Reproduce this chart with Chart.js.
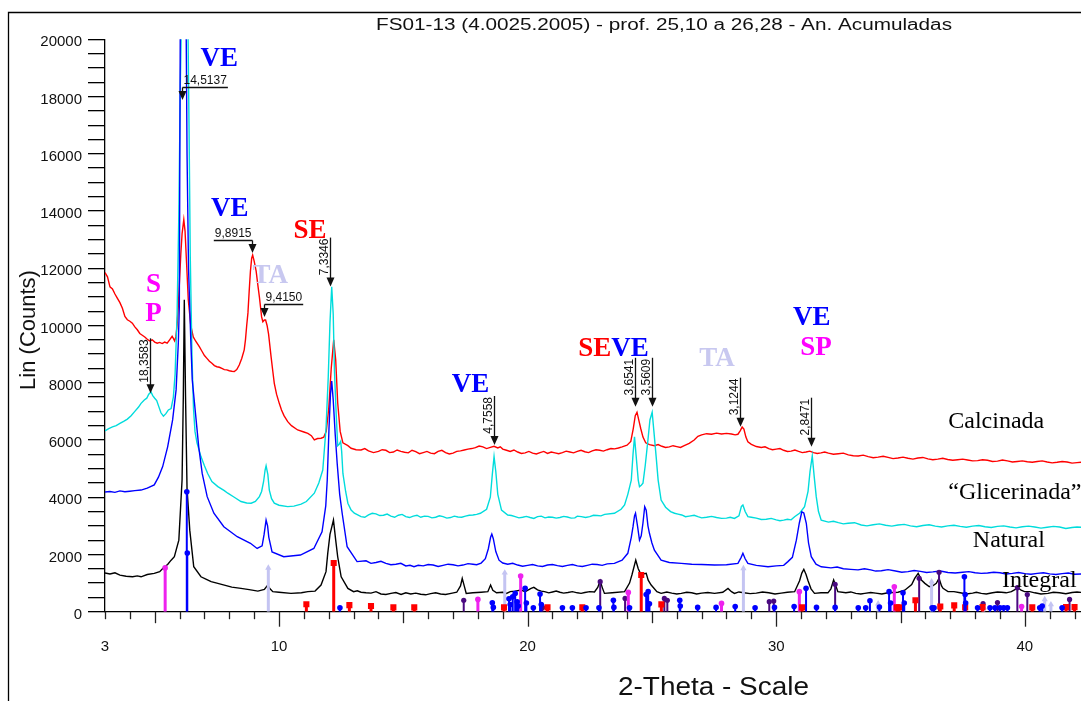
<!DOCTYPE html>
<html>
<head>
<meta charset="utf-8">
<title>FS01-13 difratogramas</title>
<script src="https://cdn.jsdelivr.net/npm/chart.js@4.4.1/dist/chart.umd.min.js"></script>
<style>
  html, body { margin: 0; padding: 0; background: #fff; overflow: hidden; }
  #wrap { width: 1081px; height: 701px; }
  canvas { display: block; }
</style>
</head>
<body>
<div id="wrap"><canvas id="xrd" width="1081" height="701"></canvas></div>
<script>
// x axis labels (2-theta)
const xLabels = [3, 10, 20, 30, 40];

// diffractograms, [2theta, counts]
const calcinada = [
  [3.00,11850],[3.10,11700],[3.20,11350],[3.30,11280],[3.40,11100],[3.50,10950],[3.60,10800],[3.70,10600],
  [3.80,10320],[3.90,10200],[4.00,10150],[4.10,10080],[4.20,9950],[4.30,9850],[4.40,9720],[4.50,9660],
  [4.60,9600],[4.70,9520],[4.80,9460],[4.90,9500],[5.00,9420],[5.10,9380],[5.20,9410],[5.30,9370],
  [5.40,9420],[5.50,9380],[5.60,9500],[5.70,9620],[5.75,9550],[5.80,9460],[5.85,9600],[5.90,10000],
  [5.95,10700],[6.00,11600],[6.05,12500],[6.10,13200],[6.17,13700],[6.22,13300],[6.28,12200],[6.35,10900],
  [6.45,10000],[6.55,9600],[6.65,9450],[6.80,9250],[6.90,9100],[7.00,8950],[7.10,8850],[7.20,8750],
  [7.30,8680],[7.40,8600],[7.50,8560],[7.60,8540],[7.70,8500],[7.80,8460],[7.90,8450],[8.00,8420],
  [8.10,8400],[8.20,8390],[8.30,8460],[8.40,8620],[8.50,8850],[8.60,9150],[8.65,9500],[8.70,10000],
  [8.75,10440],[8.80,11200],[8.85,11900],[8.90,12350],[8.94,12460],[9.00,12250],[9.08,11900],[9.15,11400],
  [9.21,11000],[9.30,10300],[9.35,10130],[9.41,10190],[9.46,10190],[9.52,10000],[9.58,9700],[9.68,8910],
  [9.75,8400],[9.81,7980],[9.90,7600],[10.01,7280],[10.10,7050],[10.20,6850],[10.35,6640],[10.50,6500],
  [10.75,6350],[11.00,6280],[11.16,6230],[11.30,6150],[11.42,6000],[11.55,6050],[11.69,6060],[11.80,6100],
  [11.90,6300],[12.00,7100],[12.10,8500],[12.20,9500],[12.28,8800],[12.36,7300],[12.46,6300],[12.57,5900],
  [12.77,5800],[12.90,5710],[13.10,5660],[13.30,5650],[13.45,5700],[13.60,5620],[13.80,5560],[14.00,5600],
  [14.15,5660],[14.30,5640],[14.45,5560],[14.60,5580],[14.75,5650],[14.90,5600],[15.05,5570],[15.20,5550],
  [15.35,5640],[15.50,5590],[15.65,5520],[15.80,5560],[15.95,5600],[16.10,5540],[16.25,5520],[16.40,5600],
  [16.55,5640],[16.70,5560],[16.85,5510],[17.00,5540],[17.15,5600],[17.30,5620],[17.45,5650],[17.60,5680],
  [17.75,5700],[17.90,5730],[18.05,5790],[18.20,5760],[18.35,5700],[18.50,5740],[18.65,5780],[18.80,5720],
  [18.90,5760],[19.00,5680],[19.15,5640],[19.30,5600],[19.45,5650],[19.60,5580],[19.75,5530],[19.90,5550],
  [20.05,5600],[20.20,5540],[20.35,5510],[20.50,5560],[20.65,5600],[20.80,5530],[20.95,5580],[21.10,5550],
  [21.25,5520],[21.40,5560],[21.55,5610],[21.70,5580],[21.85,5550],[22.00,5600],[22.15,5640],[22.30,5590],
  [22.45,5560],[22.60,5620],[22.75,5660],[22.90,5640],[23.05,5610],[23.20,5660],[23.35,5700],[23.50,5690],
  [23.65,5720],[23.80,5760],[24.00,5820],[24.15,5950],[24.25,6400],[24.33,6850],[24.40,6970],[24.47,6700],
  [24.55,6400],[24.64,6100],[24.75,5900],[24.90,5840],[25.10,5800],[25.25,5840],[25.40,5780],[25.55,5740],
  [25.70,5760],[25.85,5800],[26.00,5770],[26.15,5740],[26.30,5800],[26.50,5880],[26.70,6000],[26.85,6130],
  [27.00,6180],[27.20,6220],[27.40,6200],[27.60,6240],[27.80,6210],[28.00,6230],[28.20,6210],[28.35,6180],
  [28.46,6200],[28.55,6320],[28.63,6450],[28.70,6380],[28.78,6100],[28.86,5940],[29.00,5850],[29.20,5770],
  [29.40,5740],[29.55,5760],[29.70,5700],[29.85,5660],[30.00,5680],[30.15,5700],[30.30,5640],[30.45,5600],
  [30.60,5610],[30.75,5650],[30.90,5600],[31.05,5560],[31.20,5580],[31.35,5610],[31.50,5560],[31.65,5530],
  [31.80,5550],[31.95,5580],[32.10,5540],[32.30,5500],[32.50,5520],[32.70,5540],[32.90,5480],[33.10,5450],
  [33.30,5440],[33.50,5470],[33.70,5420],[33.90,5380],[34.10,5400],[34.30,5430],[34.50,5390],[34.70,5350],
  [34.90,5370],[35.10,5400],[35.30,5360],[35.50,5330],[35.70,5370],[35.90,5390],[36.10,5340],[36.30,5310],
  [36.50,5330],[36.70,5360],[36.90,5320],[37.10,5290],[37.30,5310],[37.50,5330],[37.70,5300],[37.90,5270],
  [38.10,5280],[38.30,5310],[38.50,5290],[38.70,5250],[38.90,5260],[39.10,5300],[39.30,5270],[39.50,5230],
  [39.70,5250],[39.90,5270],[40.10,5240],[40.30,5220],[40.50,5250],[40.70,5270],[40.90,5230],[41.10,5200],
  [41.30,5220],[41.50,5250],[41.70,5230],[41.90,5190],[42.10,5210],[42.26,5220]
];

const glicerinada = [
  [3.00,6320],[3.15,6400],[3.30,6460],[3.45,6500],[3.60,6580],[3.75,6650],[3.90,6730],[4.05,6850],
  [4.20,7000],[4.35,7150],[4.45,7280],[4.58,7400],[4.68,7460],[4.76,7600],[4.85,7680],[4.92,7550],
  [5.00,7460],[5.08,7380],[5.15,7200],[5.25,6950],[5.35,6830],[5.45,6920],[5.55,7050],[5.66,7100],
  [5.75,7500],[5.82,8300],[5.90,10400],[5.97,13900],[6.03,18400],[6.08,21000],[6.20,26000],[6.33,21000],
  [6.38,17000],[6.43,12400],[6.50,8900],[6.56,7100],[6.62,6300],[6.70,5900],[6.86,5420],[7.00,5100],
  [7.13,4830],[7.30,4550],[7.54,4370],[7.80,4230],[7.94,4140],[8.20,4000],[8.47,3850],[8.70,3800],
  [8.88,3790],[9.05,3850],[9.21,4020],[9.30,4200],[9.38,4550],[9.44,4950],[9.48,5100],[9.55,4800],
  [9.61,4250],[9.70,3950],[9.81,3790],[10.00,3720],[10.35,3670],[10.60,3690],[10.89,3760],[11.10,3850],
  [11.42,4140],[11.60,4500],[11.76,4950],[11.89,6400],[11.98,8200],[12.05,10100],[12.12,11350],[12.18,10400],
  [12.23,8400],[12.30,6900],[12.36,5800],[12.42,5850],[12.48,5950],[12.52,5600],[12.57,4830],[12.68,4200],
  [12.77,3790],[12.90,3550],[13.03,3440],[13.30,3320],[13.45,3300],[13.60,3380],[13.75,3440],[13.90,3420],
  [14.05,3360],[14.20,3370],[14.35,3410],[14.50,3340],[14.65,3300],[14.80,3370],[14.95,3400],[15.10,3320],
  [15.25,3290],[15.40,3340],[15.55,3370],[15.70,3300],[15.85,3340],[16.00,3330],[16.15,3280],[16.30,3300],
  [16.45,3350],[16.60,3320],[16.75,3270],[16.90,3290],[17.05,3340],[17.20,3310],[17.35,3300],[17.50,3340],
  [17.65,3370],[17.80,3380],[17.95,3400],[18.10,3440],[18.35,3580],[18.50,4000],[18.58,4800],[18.65,5420],
  [18.72,4900],[18.80,4100],[18.95,3550],[19.20,3380],[19.35,3360],[19.50,3320],[19.65,3280],[19.80,3300],
  [19.95,3330],[20.10,3290],[20.25,3260],[20.40,3320],[20.55,3340],[20.70,3280],[20.85,3310],[21.00,3300],
  [21.15,3270],[21.30,3290],[21.45,3330],[21.60,3310],[21.75,3270],[21.90,3280],[22.00,3340],[22.16,3320],
  [22.33,3290],[22.50,3320],[22.65,3370],[22.80,3360],[22.95,3350],[23.10,3400],[23.49,3440],[23.76,3580],
  [23.90,3730],[24.03,4100],[24.17,4600],[24.24,5500],[24.30,6110],[24.36,5500],[24.45,4600],[24.50,4370],
  [24.57,4420],[24.64,4490],[24.73,5100],[24.84,6000],[24.92,6700],[25.01,6970],[25.08,6300],[25.17,5420],
  [25.25,4600],[25.37,3900],[25.55,3650],[25.75,3500],[25.91,3440],[26.05,3410],[26.20,3380],[26.35,3320],
  [26.50,3340],[26.70,3370],[26.85,3320],[27.00,3280],[27.20,3300],[27.40,3330],[27.60,3290],[27.80,3260],
  [28.00,3270],[28.15,3300],[28.32,3260],[28.50,3350],[28.60,3680],[28.66,3730],[28.75,3500],[28.86,3320],
  [29.00,3300],[29.20,3270],[29.40,3220],[29.60,3230],[29.80,3260],[30.00,3210],[30.15,3180],[30.30,3200],
  [30.45,3230],[30.60,3210],[30.74,3320],[30.95,3450],[31.14,3670],[31.28,4200],[31.36,4900],[31.45,5440],
  [31.53,4700],[31.61,4020],[31.70,3500],[31.81,3200],[32.10,3130],[32.30,3160],[32.50,3110],[32.70,3070],
  [32.89,3090],[33.15,3110],[33.42,3030],[33.65,3000],[33.90,3040],[34.15,3070],[34.40,3020],[34.65,2990],
  [34.90,3030],[35.15,3050],[35.40,3000],[35.65,2970],[35.90,3010],[36.15,3040],[36.40,2990],[36.65,2960],
  [36.90,3000],[37.15,3020],[37.40,2980],[37.65,2950],[37.90,2990],[38.15,3010],[38.40,2970],[38.65,2940],
  [38.90,2980],[39.15,3000],[39.40,2960],[39.65,2930],[39.90,2970],[40.15,2990],[40.40,2960],[40.65,2920],
  [40.90,2950],[41.15,2980],[41.40,2960],[41.65,2910],[41.90,2940],[42.10,2960],[42.26,2950]
];

const natural = [
  [3.00,4180],[3.20,4200],[3.40,4170],[3.60,4220],[3.80,4190],[4.00,4210],[4.20,4230],[4.45,4250],
  [4.70,4320],[4.98,4430],[5.15,4700],[5.32,5070],[5.52,5760],[5.72,6700],[5.86,7750],[5.95,9400],
  [5.99,10660],[6.03,21000],[6.15,32000],[6.26,21000],[6.30,16000],[6.36,12000],[6.45,9500],[6.51,8100],
  [6.64,6930],[6.77,5760],[6.91,4830],[7.11,4020],[7.38,3440],[7.78,2970],[8.32,2620],[8.85,2390],
  [9.12,2210],[9.32,2300],[9.40,2700],[9.48,3200],[9.54,3000],[9.59,2600],[9.72,2090],[10.19,1920],
  [10.86,1980],[11.40,2210],[11.73,2790],[11.88,3700],[11.94,4600],[12.01,6400],[12.07,7600],[12.12,8060],
  [12.18,7400],[12.26,6200],[12.34,5180],[12.44,4100],[12.54,3440],[12.74,2270],[13.14,1750],[13.50,1780],
  [13.70,1690],[13.90,1720],[14.10,1760],[14.30,1690],[14.50,1640],[14.70,1660],[14.90,1690],[15.10,1600],
  [15.27,1620],[15.43,1570],[15.60,1620],[15.80,1600],[16.00,1650],[16.20,1630],[16.40,1580],[16.60,1620],
  [16.80,1660],[17.00,1640],[17.20,1600],[17.40,1630],[17.60,1680],[17.80,1660],[17.95,1640],[18.13,1700],
  [18.30,1850],[18.42,2200],[18.51,2600],[18.56,2710],[18.62,2550],[18.72,2100],[18.85,1800],[19.00,1700],
  [19.20,1660],[19.40,1690],[19.60,1630],[19.80,1590],[20.00,1620],[20.20,1650],[20.40,1600],[20.60,1580],
  [20.80,1630],[21.00,1650],[21.20,1610],[21.40,1580],[21.60,1620],[21.80,1650],[22.00,1600],[22.20,1580],
  [22.40,1620],[22.60,1660],[22.80,1650],[23.00,1620],[23.20,1670],[23.49,1690],[23.80,1800],[24.03,2040],
  [24.17,2600],[24.24,2970],[24.30,3350],[24.34,3440],[24.42,3000],[24.50,2500],[24.57,2650],[24.64,3100],
  [24.71,3670],[24.77,3550],[24.84,3000],[24.90,2740],[25.00,2400],[25.10,2150],[25.37,1800],[25.70,1720],
  [26.18,1690],[26.60,1660],[27.00,1650],[27.52,1630],[28.00,1640],[28.46,1690],[28.59,1900],[28.66,2040],
  [28.75,1850],[28.86,1690],[29.20,1620],[29.67,1570],[30.00,1600],[30.30,1620],[30.47,1750],[30.65,1900],
  [30.81,2500],[30.93,3100],[31.03,3490],[31.11,3450],[31.21,3090],[31.30,2400],[31.41,1920],[31.60,1660],
  [31.81,1570],[32.20,1530],[32.45,1560],[32.70,1500],[33.00,1480],[33.29,1460],[33.55,1500],[33.80,1460],
  [34.00,1420],[34.23,1430],[34.50,1470],[34.80,1420],[35.05,1380],[35.30,1400],[35.55,1440],[35.80,1410],
  [36.05,1370],[36.30,1390],[36.60,1420],[36.91,1370],[37.20,1350],[37.50,1380],[37.75,1400],[38.00,1360],
  [38.25,1340],[38.50,1350],[38.75,1380],[39.00,1360],[39.25,1320],[39.50,1340],[39.75,1370],[40.00,1330],
  [40.25,1310],[40.50,1340],[40.75,1360],[41.00,1320],[41.25,1300],[41.50,1330],[41.75,1350],[42.00,1310],
  [42.26,1315]
];

const integral = [
  [3.00,1350],[3.20,1320],[3.40,1360],[3.60,1280],[3.85,1240],[4.11,1220],[4.30,1250],[4.45,1220],
  [4.70,1300],[4.98,1340],[5.20,1400],[5.39,1570],[5.52,1650],[5.66,1800],[5.79,1920],[5.97,2500],
  [6.10,4600],[6.15,7500],[6.19,10900],[6.24,7500],[6.30,4300],[6.41,2850],[6.57,1570],[6.86,1220],
  [7.10,1120],[7.27,1050],[7.50,1000],[7.80,930],[8.10,860],[8.47,815],[8.80,770],[9.15,720],
  [9.41,780],[9.55,930],[9.62,820],[9.75,700],[10.00,680],[10.48,640],[10.90,660],[11.16,700],
  [11.45,720],[11.69,930],[11.89,1400],[11.96,2040],[12.05,2700],[12.19,3200],[12.28,2500],[12.36,1920],
  [12.50,1220],[12.77,815],[13.00,700],[13.15,730],[13.30,680],[13.50,660],[13.70,650],[13.90,700],
  [14.10,620],[14.30,600],[14.50,640],[14.70,670],[14.91,605],[15.10,660],[15.30,620],[15.50,650],
  [15.70,610],[15.90,590],[16.10,630],[16.30,660],[16.50,620],[16.70,600],[16.92,640],[17.15,680],
  [17.30,900],[17.37,1165],[17.45,900],[17.53,640],[17.80,660],[18.13,680],[18.40,700],[18.51,930],
  [18.60,750],[18.75,660],[19.00,680],[19.15,640],[19.30,700],[19.50,720],[19.74,755],[19.90,700],
  [20.14,815],[20.25,850],[20.40,760],[20.55,720],[20.68,700],[20.85,660],[21.00,690],[21.15,720],
  [21.30,680],[21.45,650],[21.62,670],[21.80,700],[22.00,660],[22.15,640],[22.30,670],[22.50,700],
  [22.69,690],[22.82,850],[22.92,1080],[23.00,850],[23.09,640],[23.40,660],[23.90,700],[24.10,1000],
  [24.20,1300],[24.35,1800],[24.45,1500],[24.57,1280],[24.70,1330],[24.77,1340],[24.85,1100],[24.97,930],
  [25.20,700],[25.37,640],[25.60,690],[25.80,650],[26.00,620],[26.18,640],[26.40,680],[26.60,660],
  [26.80,620],[27.00,650],[27.25,670],[27.52,640],[27.85,680],[28.06,815],[28.20,700],[28.32,640],
  [28.50,690],[28.70,660],[28.95,630],[29.20,650],[29.45,690],[29.70,660],[29.95,620],[30.20,650],
  [30.45,680],[30.74,700],[30.94,1080],[31.03,1350],[31.11,1480],[31.20,1300],[31.28,1080],[31.40,800],
  [31.54,640],[31.80,660],[32.08,660],[32.20,800],[32.31,1110],[32.40,900],[32.48,700],[32.80,660],
  [33.00,690],[33.20,640],[33.40,620],[33.56,640],[33.80,670],[34.00,650],[34.25,620],[34.50,660],
  [34.90,680],[35.17,750],[35.45,950],[35.57,1165],[35.71,1340],[35.85,1100],[35.98,990],[36.15,880],
  [36.24,870],[36.44,990],[36.55,1165],[36.65,900],[36.71,815],[36.91,700],[37.15,700],[37.40,660],
  [37.65,620],[37.90,650],[38.05,680],[38.25,640],[38.45,620],[38.70,660],[38.90,690],[39.06,680],
  [39.25,660],[39.46,700],[39.62,780],[39.73,837],[39.85,750],[39.99,700],[40.20,700],[40.40,660],
  [40.65,620],[40.93,640],[41.15,680],[41.40,660],[41.65,630],[41.90,670],[42.10,690],[42.26,675]
];

// reference phase lines, [2theta, height]
const veSticks = [
  [6.29,4190],[6.31,2050],[12.45,140],[18.58,310],[18.62,150],[19.25,450],[19.30,250],[19.40,520],
  [19.50,640],[19.58,350],[19.62,200],[19.90,815],[19.95,300],[20.23,140],[20.50,620],[20.55,250],
  [21.40,140],[21.80,140],[22.35,140],[22.87,140],[23.45,400],[23.47,150],[24.10,140],[24.77,600],
  [24.85,700],[24.90,280],[26.12,400],[26.14,200],[26.84,150],[27.58,150],[28.35,180],[29.15,140],
  [29.93,150],[30.72,180],[31.20,815],[31.62,150],[32.37,150],[33.30,140],[33.60,140],[33.77,380],
  [34.15,160],[34.54,700],[34.60,300],[35.10,660],[35.15,300],[36.27,140],[36.35,140],[37.57,1220],
  [37.60,600],[37.62,300],[38.10,140],[38.60,140],[38.80,140],[39.00,140],[39.15,140],[39.30,140],
  [40.60,140],[40.70,200],[41.50,140]
];
const seSticks = [
  [11.10,260],[12.20,1700],[12.83,230],[13.70,200],[14.60,150],[15.44,150],[19.05,150],[20.80,150],
  [22.20,150],[24.57,1280],[25.38,255],[31.04,150],[34.85,150],[34.94,150],[35.60,400],[36.60,180],
  [37.16,220],[37.60,150],[38.30,160],[40.30,150],[41.66,160],[42.00,160]
];
const spSticks = [
  [5.42,1530],[18.00,430],[19.72,1250],[24.05,675],[27.80,290],[30.93,700],[34.75,870],[39.87,180]
];
const taSticks = [
  [9.57,1530],[19.08,1360],[28.68,1515],[34.10,280],[36.25,1050],[38.35,150],[40.80,430],[41.05,250]
];
const otherSticks = [
  [17.43,400],[20.60,150],[22.92,1050],[23.92,465],[25.50,465],[25.62,400],[29.72,350],[29.90,370],
  [32.37,955],[35.75,1165],[36.55,1375],[38.32,280],[38.90,320],[39.70,840],[40.10,600],[41.80,430]
];

// d-spacings (Angstrom) written over the peaks
const dSpacings = ['14,5137', '9,8915', '9,4150', '7,3346', '18,3583', '4,7558', '3,6541', '3,5609', '3,1244', '2,8471'];

const sans = '"Liberation Sans", Arial, sans-serif';
const serif = '"Liberation Serif", "Times New Roman", serif';

// Cu K-alpha
const lambda = 1.5406;
const toTwoTheta = d => 2 * Math.asin(lambda / (2 * d)) * 180 / Math.PI;

function curve(label, pts, color, order) {
  return {
    label, order,
    data: pts.map(p => ({ x: p[0], y: p[1] })),
    borderColor: color, borderWidth: 1.4,
    pointRadius: 0, tension: 0, fill: false
  };
}

function sticks(label, list, color, style, radius, width, order) {
  const data = [];
  list.forEach(s => {
    data.push({ x: s[0], y: 0 }, { x: s[0], y: s[1] }, { x: s[0], y: null });
  });
  return {
    label, data, order,
    borderColor: color, borderWidth: width,
    pointStyle: style,
    pointRadius: c => (c.raw && c.raw.y > 0 ? radius : 0),
    pointBackgroundColor: color, pointBorderWidth: 0,
    spanGaps: false, fill: false
  };
}

function stretchText(ctx, text, x, y, size, width, align) {
  ctx.save();
  ctx.font = size + 'px ' + sans;
  const w = ctx.measureText(text).width;
  ctx.translate(align === 'center' ? x - width / 2 : x, y);
  ctx.scale(width / w, 1);
  ctx.textAlign = 'left';
  ctx.textBaseline = 'alphabetic';
  ctx.fillText(text, 0, 0);
  ctx.restore();
}

const phaseColor = { VE: '#0000ff', SE: '#ff0000', TA: '#c8c8f0', SP: '#ff00ff' };

const decor = {
  id: 'decor',
  beforeDraw(chart) {
    const ctx = chart.ctx;
    ctx.save();
    ctx.fillStyle = '#fff';
    ctx.fillRect(0, 0, chart.width, chart.height);
    // outer frame (top and left)
    ctx.strokeStyle = '#000';
    ctx.lineWidth = 1.3;
    ctx.beginPath();
    ctx.moveTo(8.5, chart.height);
    ctx.lineTo(8.5, 12.5);
    ctx.lineTo(chart.width, 12.5);
    ctx.stroke();
    ctx.restore();
  },
  afterDraw(chart) {
    const ctx = chart.ctx;
    const xs = chart.scales.x, ys = chart.scales.y;
    const base = ys.getPixelForValue(0);
    ctx.save();

    // x tick marks: long at tens, medium at fives
    ctx.strokeStyle = '#222';
    ctx.lineWidth = 1.3;
    for (let v = 3; v <= 42; v++) {
      const px = Math.round(xs.getPixelForValue(v)) + 0.5;
      const len = v % 10 === 0 ? 15 : (v % 5 === 0 ? 11.5 : 7.5);
      ctx.beginPath();
      ctx.moveTo(px, base);
      ctx.lineTo(px, base + len);
      ctx.stroke();
    }

    // titles
    ctx.fillStyle = '#111';
    stretchText(ctx, 'FS01-13 (4.0025.2005) - prof. 25,10 a 26,28 - An. Acumuladas', 664, 30, 16, 576, 'center');
    stretchText(ctx, '2-Theta - Scale', 618, 695, 25, 191, 'left');
    ctx.save();
    ctx.font = '22px ' + sans;
    ctx.translate(35, 330);
    ctx.rotate(-Math.PI / 2);
    ctx.textAlign = 'center';
    ctx.textBaseline = 'alphabetic';
    ctx.fillText('Lin (Counts)', 0, 0);
    ctx.restore();

    // d-spacing arrows
    const arrowLayout = [
      { tip: 17880, kind: 'right' }, { tip: 12530, kind: 'left' }, { tip: 10300, kind: 'right' },
      { tip: 11360, kind: 'up' }, { tip: 7630, kind: 'up', len: 55 }, { tip: 5825, kind: 'up' },
      { tip: 7160, kind: 'up' }, { tip: 7160, kind: 'up' }, { tip: 6465, kind: 'up' }, { tip: 5765, kind: 'up' }
    ];
    ctx.font = '12px ' + sans;
    ctx.strokeStyle = '#111';
    ctx.fillStyle = '#111';
    ctx.lineWidth = 1.3;
    const head = (x, y) => {
      ctx.beginPath();
      ctx.moveTo(x - 4, y - 9);
      ctx.lineTo(x + 4, y - 9);
      ctx.lineTo(x, y);
      ctx.closePath();
      ctx.fill();
    };
    dSpacings.forEach((label, i) => {
      const a = arrowLayout[i];
      const d = parseFloat(label.replace(',', '.'));
      const px = Math.round(xs.getPixelForValue(toTwoTheta(d))) + 0.5;
      const py = ys.getPixelForValue(a.tip);
      const w = ctx.measureText(label).width;
      if (a.kind === 'up') {
        const top = py - (a.len || 49);
        ctx.beginPath();
        ctx.moveTo(px, top);
        ctx.lineTo(px, py - 8);
        ctx.stroke();
        head(px, py);
        ctx.save();
        ctx.translate(px - 2.5, top + 1);
        ctx.rotate(-Math.PI / 2);
        ctx.textAlign = 'right';
        ctx.textBaseline = 'alphabetic';
        ctx.fillText(label, 0, 0);
        ctx.restore();
      } else {
        const ly = Math.round(py - 13) + 0.5;
        const x0 = a.kind === 'right' ? px : px - w - 2;
        const x1 = a.kind === 'right' ? px + w + 2 : px;
        ctx.beginPath();
        ctx.moveTo(x0, ly);
        ctx.lineTo(x1, ly);
        ctx.moveTo(px, ly);
        ctx.lineTo(px, py - 8);
        ctx.stroke();
        head(px, py);
        ctx.textAlign = 'left';
        ctx.textBaseline = 'alphabetic';
        ctx.fillText(label, x0 + 1, ly - 3.5);
      }
    });

    // phase labels
    const phaseLabels = [
      { parts: ['VE'], t: 6.84, c: 19050 },
      { parts: ['VE'], t: 7.26, c: 13810 },
      { parts: ['SE'], t: 10.58, c: 13060 },
      { parts: ['TA'], t: 8.93, c: 11470 },
      { parts: ['S'], t: 4.95, c: 11170, center: true, color: 'SP' },
      { parts: ['P'], t: 4.95, c: 10140, center: true, color: 'SP' },
      { parts: ['VE'], t: 16.95, c: 7690 },
      { parts: ['SE', 'VE'], t: 22.04, c: 8930 },
      { parts: ['TA'], t: 26.90, c: 8570 },
      { parts: ['VE'], t: 30.68, c: 10020 },
      { parts: ['SP'], t: 30.97, c: 8970 }
    ];
    ctx.font = 'bold 27px ' + serif;
    ctx.textBaseline = 'alphabetic';
    phaseLabels.forEach(l => {
      let x = xs.getPixelForValue(l.t);
      const y = ys.getPixelForValue(l.c);
      l.parts.forEach(p => {
        ctx.fillStyle = phaseColor[l.color || p];
        ctx.textAlign = l.center ? 'center' : 'left';
        ctx.fillText(p, x, y);
        x += ctx.measureText(p).width;
      });
    });

    // sample names
    const names = [
      { text: 'Calcinada', t: 36.92, c: 6420 },
      { text: '\u201CGlicerinada\u201D', t: 36.92, c: 3940 },
      { text: 'Natural', t: 37.91, c: 2260 },
      { text: 'Integral', t: 39.08, c: 865 }
    ];
    ctx.font = '24px ' + serif;
    ctx.fillStyle = '#000';
    ctx.textAlign = 'left';
    names.forEach(n => ctx.fillText(n.text, xs.getPixelForValue(n.t), ys.getPixelForValue(n.c)));

    ctx.restore();
  }
};

new Chart(document.getElementById('xrd'), {
  type: 'line',
  data: {
    datasets: [
      sticks('VE', veSticks, '#0000ff', 'circle', 2.8, 2, 0),
      sticks('SE', seSticks, '#ff0000', 'rect', 4.3, 3, 0),
      sticks('SP', spSticks, '#ee22ee', 'circle', 2.8, 3, 0),
      sticks('TA', taSticks, '#c4c4f2', 'triangle', 3.6, 3, 0),
      sticks('outra', otherSticks, '#4a0a80', 'circle', 2.6, 2, 0),
      curve('Integral', integral, '#000000', 1),
      curve('Natural', natural, '#0000ff', 2),
      curve('Glicerinada', glicerinada, '#00dcdc', 3),
      curve('Calcinada', calcinada, '#ff0000', 4)
    ]
  },
  options: {
    responsive: false,
    devicePixelRatio: 1,
    animation: false,
    events: [],
    layout: { padding: { top: 39.3, left: 0, right: 0, bottom: 0 } },
    plugins: {
      legend: { display: false },
      tooltip: { enabled: false }
    },
    scales: {
      x: {
        type: 'linear',
        min: 3,
        max: 42.26,
        // marks are drawn by the decor plugin; tickLength only spaces the labels
        grid: { display: false, drawTicks: true, tickLength: 26 },
        border: { display: true, color: '#000', width: 1.3 },
        ticks: {
          stepSize: 1,
          autoSkip: false,
          includeBounds: false,
          maxRotation: 0,
          padding: 0,
          color: '#111',
          font: { family: sans, size: 15 },
          callback: v => (xLabels.includes(Math.round(v)) && Math.abs(v - Math.round(v)) < 1e-6 ? String(Math.round(v)) : '')
        },
        afterFit: s => { s.height = 89.3; }
      },
      y: {
        min: 0,
        max: 20000,
        grid: { display: true, drawOnChartArea: false, drawTicks: true, tickLength: 17, color: '#000', lineWidth: 1.3 },
        border: { display: true, color: '#000', width: 1.3 },
        ticks: {
          stepSize: 500,
          autoSkip: false,
          padding: 6,
          labelOffset: 3,
          color: '#111',
          font: { family: sans, size: 15 },
          callback: v => (v % 2000 === 0 ? String(v) : '')
        },
        afterFit: s => { s.width = 105; }
      }
    }
  },
  plugins: [decor]
});
</script>
</body>
</html>
